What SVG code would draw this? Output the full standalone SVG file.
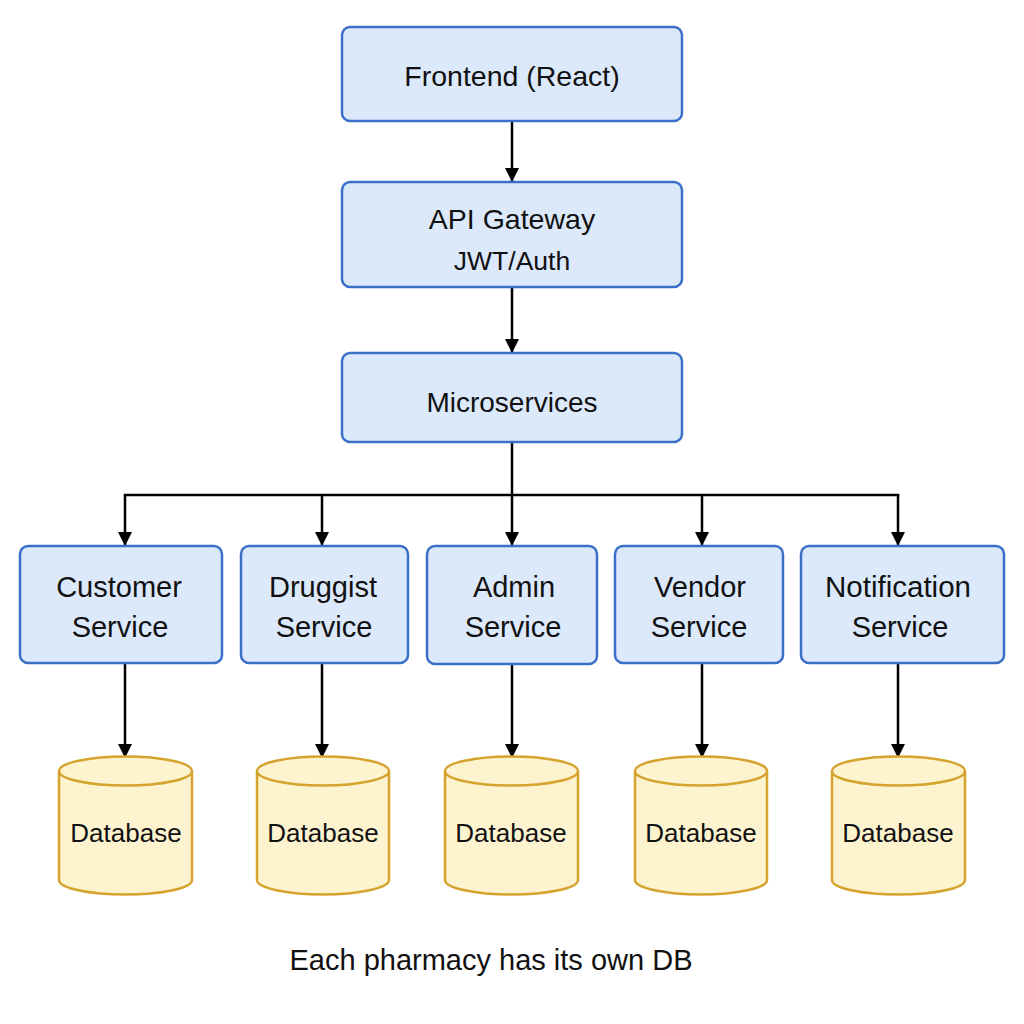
<svg xmlns="http://www.w3.org/2000/svg" width="1024" height="1024" viewBox="0 0 1024 1024">
<defs>
<style>
.box{fill:#dce9fb;stroke:#3b70c8;stroke-width:2.5}
.db{fill:#fdf3cf;stroke:#d5a32e;stroke-width:2.5}
.t{font-family:"Liberation Sans",Arial,sans-serif;fill:#111;text-anchor:middle}
.c{stroke:#000;stroke-width:2.5;fill:none}
</style>
<marker id="ah" viewBox="0 0 14 14" refX="13" refY="7" markerWidth="14" markerHeight="14" markerUnits="userSpaceOnUse" orient="auto">
<path d="M0,0 L14,7 L0,14 z" fill="#000"/>
</marker>
</defs>
<rect width="1024" height="1024" fill="#fff"/>
<g id="connectors">
<line class="c" x1="512" y1="121" x2="512" y2="181" marker-end="url(#ah)"/>
<line class="c" x1="512" y1="287" x2="512" y2="352" marker-end="url(#ah)"/>
<line class="c" x1="512" y1="442" x2="512" y2="545" marker-end="url(#ah)"/>
<line class="c" x1="125" y1="495" x2="898" y2="495" stroke-linecap="square"/>
<line class="c" x1="125" y1="495" x2="125" y2="545" marker-end="url(#ah)"/>
<line class="c" x1="322" y1="495" x2="322" y2="545" marker-end="url(#ah)"/>
<line class="c" x1="702" y1="495" x2="702" y2="545" marker-end="url(#ah)"/>
<line class="c" x1="898" y1="495" x2="898" y2="545" marker-end="url(#ah)"/>
<line class="c" x1="125" y1="663" x2="125" y2="757" marker-end="url(#ah)"/>
<line class="c" x1="322" y1="663" x2="322" y2="757" marker-end="url(#ah)"/>
<line class="c" x1="512" y1="664" x2="512" y2="757" marker-end="url(#ah)"/>
<line class="c" x1="702" y1="663" x2="702" y2="757" marker-end="url(#ah)"/>
<line class="c" x1="898" y1="663" x2="898" y2="757" marker-end="url(#ah)"/>
</g>
<g id="frontend">
<rect class="box" x="342" y="27" width="340" height="94" rx="8"/>
<text class="t" x="512" y="86" font-size="28.5">Frontend (React)</text>
</g>
<g id="gateway">
<rect class="box" x="342" y="182" width="340" height="105" rx="8"/>
<text class="t" x="512" y="229" font-size="28.5">API Gateway</text>
<text class="t" x="512" y="270" font-size="26.5">JWT/Auth</text>
</g>
<g id="microservices">
<rect class="box" x="342" y="353" width="340" height="89" rx="8"/>
<text class="t" x="512" y="412" font-size="28">Microservices</text>
</g>
<g id="customer">
<rect class="box" x="20" y="546" width="202" height="117" rx="8"/>
<text class="t" x="119" y="597" font-size="29">Customer</text>
<text class="t" x="120" y="637" font-size="29">Service</text>
</g>
<g id="druggist">
<rect class="box" x="241" y="546" width="167" height="117" rx="8"/>
<text class="t" x="323" y="597" font-size="29">Druggist</text>
<text class="t" x="324" y="637" font-size="29">Service</text>
</g>
<g id="admin">
<rect class="box" x="427" y="546" width="170" height="118" rx="8"/>
<text class="t" x="514" y="597" font-size="29">Admin</text>
<text class="t" x="513" y="637" font-size="29">Service</text>
</g>
<g id="vendor">
<rect class="box" x="615" y="546" width="168" height="117" rx="8"/>
<text class="t" x="700" y="597" font-size="29">Vendor</text>
<text class="t" x="699" y="637" font-size="29">Service</text>
</g>
<g id="notification">
<rect class="box" x="801" y="546" width="203" height="117" rx="8"/>
<text class="t" x="898" y="597" font-size="29.5">Notification</text>
<text class="t" x="900" y="637" font-size="29">Service</text>
</g>
<g id="db1">
<path class="db" d="M59,771 A66,14.5 0 0 1 192,771 V880 A66,14.5 0 0 1 59,880 Z"/>
<path class="db" d="M59,771 A66,14.5 0 0 0 192,771"/>
<text class="t" x="126" y="842" font-size="26">Database</text>
</g>
<g id="db2">
<path class="db" d="M257,771 A66,14.5 0 0 1 389,771 V880 A66,14.5 0 0 1 257,880 Z"/>
<path class="db" d="M257,771 A66,14.5 0 0 0 389,771"/>
<text class="t" x="323" y="842" font-size="26">Database</text>
</g>
<g id="db3">
<path class="db" d="M445,771 A66,14.5 0 0 1 578,771 V880 A66,14.5 0 0 1 445,880 Z"/>
<path class="db" d="M445,771 A66,14.5 0 0 0 578,771"/>
<text class="t" x="511" y="842" font-size="26">Database</text>
</g>
<g id="db4">
<path class="db" d="M635,771 A66,14.5 0 0 1 767,771 V880 A66,14.5 0 0 1 635,880 Z"/>
<path class="db" d="M635,771 A66,14.5 0 0 0 767,771"/>
<text class="t" x="701" y="842" font-size="26">Database</text>
</g>
<g id="db5">
<path class="db" d="M832,771 A66,14.5 0 0 1 965,771 V880 A66,14.5 0 0 1 832,880 Z"/>
<path class="db" d="M832,771 A66,14.5 0 0 0 965,771"/>
<text class="t" x="898" y="842" font-size="26">Database</text>
</g>
<text class="t" x="491" y="970" font-size="29">Each pharmacy has its own DB</text>
</svg>
